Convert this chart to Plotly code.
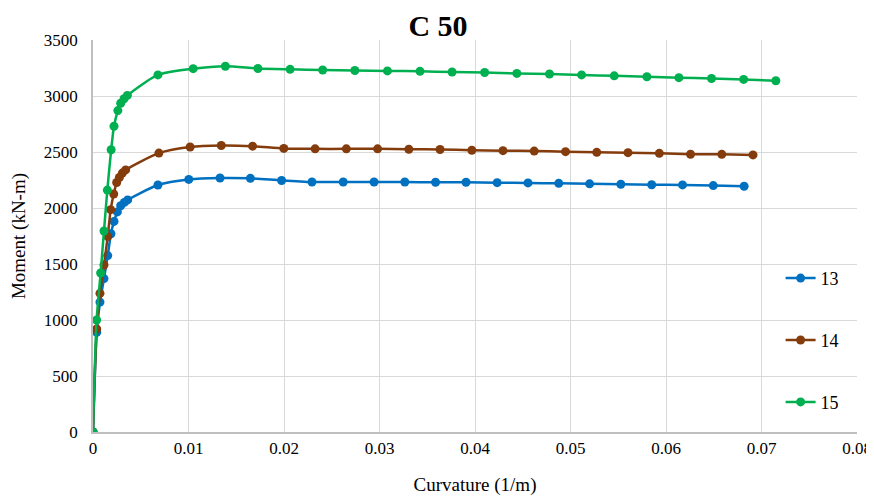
import plotly.graph_objects as go

names = ["13", "14", "15"]
colors = ["#0070C0", "#843C0C", "#00B050"]

curv_13 = [0, 0.00039, 0.00073, 0.00115, 0.00154, 0.00188, 0.0022, 0.00255, 0.0029, 0.00328, 0.00363,
           0.0068, 0.01003, 0.0133, 0.01648, 0.01975, 0.02293, 0.0262, 0.02943, 0.03265, 0.03587,
           0.03906, 0.04232, 0.04555, 0.04877, 0.052, 0.05527, 0.0585, 0.06173, 0.06495, 0.06818]
mom_13 = [0, 890, 1160, 1370, 1575, 1770, 1880, 1965, 2020, 2050, 2072,
          2205, 2255, 2268, 2265, 2246, 2232, 2232, 2232, 2232, 2230,
          2230, 2226, 2224, 2220, 2216, 2212, 2208, 2206, 2200, 2194]

curv_14 = [0, 0.00039, 0.00073, 0.00115, 0.00154, 0.00185, 0.00217, 0.00248, 0.00276, 0.00307, 0.00342,
           0.0069, 0.01017, 0.01343, 0.01671, 0.01998, 0.02326, 0.02653, 0.0298, 0.03307, 0.03634,
           0.03967, 0.04293, 0.0462, 0.04948, 0.05275, 0.05602, 0.0593, 0.06257, 0.06584, 0.06911]
mom_14 = [0, 920, 1238, 1491, 1745, 1985, 2125, 2228, 2272, 2312, 2340,
          2490, 2545, 2558, 2552, 2532, 2528, 2528, 2528, 2525, 2522,
          2516, 2512, 2508, 2503, 2497, 2494, 2488, 2480, 2479, 2474]

curv_15 = [0, 0.00038, 0.0008, 0.00115, 0.0015, 0.0019, 0.0022, 0.0026, 0.0029, 0.00325, 0.0036,
           0.0068, 0.01049, 0.01386, 0.01727, 0.02064, 0.02405, 0.02742, 0.03083, 0.03424, 0.0376,
           0.04101, 0.04438, 0.0478, 0.05116, 0.05458, 0.058, 0.06135, 0.06477, 0.06813, 0.0715]
mom_15 = [0, 1000, 1420, 1795, 2160, 2520, 2730, 2870, 2935, 2975, 3005,
          3188, 3244, 3266, 3246, 3238, 3232, 3228, 3224, 3220, 3214,
          3210, 3202, 3196, 3188, 3180, 3172, 3164, 3156, 3148, 3136]

series = [(curv_13, mom_13), (curv_14, mom_14), (curv_15, mom_15)]

fig = go.Figure()
for name, color, (xs, ys) in zip(names, colors, series):
    fig.add_trace(go.Scatter(
        x=xs, y=ys, name=name, mode="lines+markers",
        line=dict(color=color, width=2.5, shape="spline", smoothing=0.7),
        marker=dict(color=color, size=9),
        legendgroup=name,
    ))

ff = "Liberation Serif"

fig.update_layout(
    width=866, height=489,
    margin=dict(l=85, r=17, t=32, b=65, autoexpand=False),
    paper_bgcolor="white", plot_bgcolor="white",
    font=dict(family=ff, size=17, color="#000000"),
    title=dict(text="<b>C 50</b>", x=0.4965, xref="container", y=0.965, yref="container",
               xanchor="center", yanchor="middle", font=dict(size=30, family=ff),
               automargin=False),
    legend=dict(x=0.900, y=0.439, xanchor="left", yanchor="top", bgcolor="rgba(0,0,0,0)",
                tracegroupgap=35.5, font=dict(size=18, family=ff), traceorder="grouped",
                itemwidth=30),
    xaxis=dict(range=[0, 0.08], dtick=0.01, tick0=0, showgrid=True, gridcolor="#D9D9D9",
               showline=True, linecolor="#BFBFBF", linewidth=1.5, zeroline=False,
               ticks="", tickfont=dict(size=17, family=ff), automargin=False,
               title=dict(text="Curvature (1/m)", font=dict(size=19, family=ff), standoff=21)),
    yaxis=dict(range=[0, 3500], dtick=500, tick0=0, showgrid=True, gridcolor="#D9D9D9",
               showline=True, linecolor="#BFBFBF", linewidth=1.5, zeroline=False,
               ticks="", tickfont=dict(size=17, family=ff), ticklabelstandoff=10, automargin=False,
               title=dict(text="Moment (kN-m)", font=dict(size=19, family=ff), standoff=14)),
)

fig.write_html("out.html")
